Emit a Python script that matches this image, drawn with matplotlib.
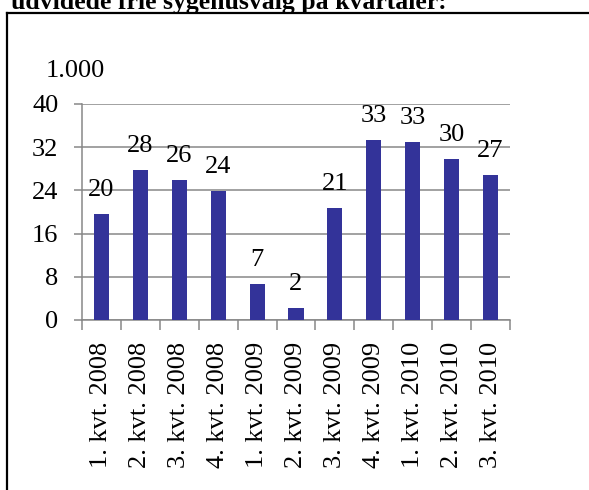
import numpy as np
import matplotlib.pyplot as plt
from matplotlib.lines import Line2D

plt.rcParams["font.family"] = ["Liberation Serif", "DejaVu Serif"]

# data (1.000 persons)
quarters = ["1. kvt. 2008", "2. kvt. 2008", "3. kvt. 2008", "4. kvt. 2008",
            "1. kvt. 2009", "2. kvt. 2009", "3. kvt. 2009", "4. kvt. 2009",
            "1. kvt. 2010", "2. kvt. 2010", "3. kvt. 2010"]
values = [19.6, 27.8, 25.9, 23.9, 6.6, 2.3, 20.7, 33.3, 32.9, 29.9, 26.9]
y_ticks = [0, 8, 16, 24, 32, 40]

W, H = 589, 490
fs = 19
fig = plt.figure(figsize=(W / 100, H / 100), dpi=100)

# axes box in pixel terms
left, right, top, bottom = 82, 510, 104, 320
ax = fig.add_axes([left / W, 1 - bottom / H, (right - left) / W, (bottom - top) / H])

grid_col = "#878787"
x = np.arange(len(quarters))
bars = ax.bar(x, values, width=0.39, color="#333399", zorder=3)

for xi, v in zip(x, values):
    ax.text(xi, v + 2.4, "%.0f" % v, ha="center", va="bottom", fontsize=fs)

ax.set_xlim(-0.5, len(quarters) - 0.5)
ax.set_ylim(0, 40)
ax.set_yticks(y_ticks)
ax.set_yticklabels([str(t) for t in y_ticks], fontsize=fs)
ax.yaxis.grid(True, color=grid_col, linewidth=1.1, zorder=0)
ax.tick_params(axis="y", length=6, width=1.1, color=grid_col, pad=11)

# category labels at bar centres, tick marks at boundaries (Excel style)
ax.set_xticks(x)
ax.set_xticklabels(quarters, rotation=90, fontsize=fs)
ax.tick_params(axis="x", which="major", length=0, pad=16)
ax.set_xticks(np.arange(len(quarters) + 1) - 0.5, minor=True)
ax.tick_params(axis="x", which="minor", length=7, width=1.1, color=grid_col)

for s in ["top", "right"]:
    ax.spines[s].set_visible(False)
for s in ["left", "bottom"]:
    ax.spines[s].set_color(grid_col)
    ax.spines[s].set_linewidth(1.1)

# unit label above the axis
fig.text(46 / W, 1 - 71 / H, "1.000", fontsize=fs, ha="left", va="center")

# clipped heading and frame lines
fig.text(11 / W, 1 - 9 / H, "udvidede frie sygehusvalg på kvartaler:",
         fontsize=18.5, fontweight="bold", ha="left", va="baseline")
fig.add_artist(Line2D([7 / W, 7 / W], [1 - 13 / H, 0], color="black", linewidth=1.6))
fig.add_artist(Line2D([7 / W, 1], [1 - 13 / H, 1 - 13 / H], color="black", linewidth=1.6))

fig.savefig("out.png", dpi=100)
